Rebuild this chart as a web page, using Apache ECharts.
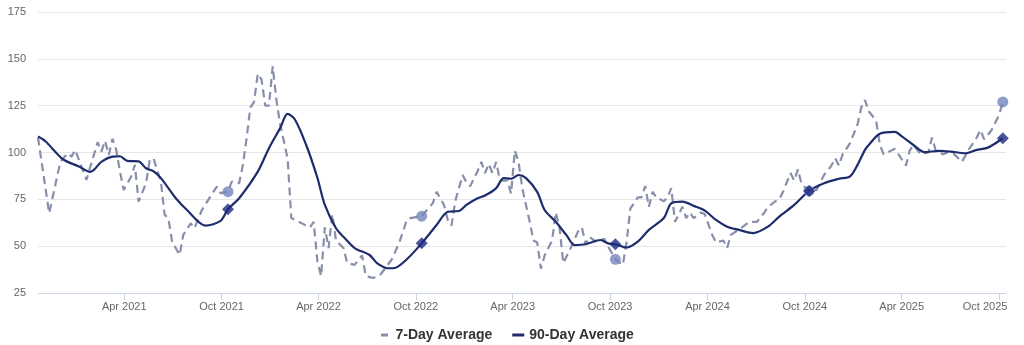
<!DOCTYPE html>
<html>
<head>
<meta charset="utf-8">
<script src="https://cdn.jsdelivr.net/npm/echarts@6/dist/echarts.min.js"></script>
<style>
  html, body { margin: 0; padding: 0; background: #ffffff; }
  #chart { width: 1024px; height: 345px; }
</style>
</head>
<body>
<div id="chart"></div>
<script>
// [week, value] readings; week 0 is Wednesday 21 Oct 2020.
const avg7 = [
  [0,108],[3,67.6],[6,95],[8,99.6],[9,97.8],[10,101.4],[12,90.7],[13,85.4],[15,98.7],[16,105.5],[17,100.5],[18,106.2],
  [19,98.7],[20,107.3],[21,101.4],[22,89.8],[23,80],[25,87.1],[26,93.4],[27,73.8],[29,83.6],[30,96],[31,96.9],[33,84.4],
  [34,66.7],[35,64.9],[36,52.4],[38,45.3],[39,56],[41,62.2],[42,59.6],[44,69.3],[46,75.6],[48,81.8],[49,78.3],[51,79.1],
  [52,84.5],[54,83.6],[55,93.4],[56,107.6],[57,124],[58,127],[59,142],[60,139],[61,125],[62,125],[63,146],[64,128],
  [65,115],[67,97],[68,65],[70,63],[73,60],[74,63],[75,42],[76,34],[77,60],[78,49],[79,67],[80,53],[82,49],[83,41],
  [85,40],[87,45],[88,34],[90,33],[92,35],[95,43],[97,52],[99,64],[100,65],[103,66],[106,73],[107,79],[109,72],
  [110,64],[111,61],[112,74],[114,88],[115,84],[116,82],[118,90],[119,95],[120,89],[121,94],[122,89],[123,95],[124,85],
  [126,85],[127,78],[128,101],[129,95],[130,81],[132,63],[133,53],[134,52],[135,38],[136,45],[138,53],[139,68],[140,60],
  [141,41],[143,49],[145,58],[146,60],[147,51],[148,55],[150,52],[152,54],[153,50],[155,43],[157,40],[158,52],[159,70],
  [161,76],[162,76],[163,82],[164,71],[165,79],[166,76],[168,74],[169,76],[170,81],[171,63],[173,71],[174,65],[175,68],
  [176,65],[178,68],[179,67],[181,56],[182,52],[184,53],[185,49],[186,56],[189,60],[191,63],[193,63],[195,68],[196,71],
  [198,74],[199,75],[200,79],[202,89],[203,85],[204,91],[205,83],[207,79.5],[209,80],[211,88],[213,93],[214,97],[215,93],
  [216,99],[218,105],[220,115],[221,124],[222,128],[223,122],[225,117],[226,104],[227,99],[229,101],[230,102],[231,99],
  [233,93],[234,101],[235,104],[237,99],[239,100],[240,108],[241,101],[243,99],[244,100],[246,99],[248,95],[250,102],
  [252,108],[253,112],[254,107],[256,112],[258,120],[259,127]
];
const avg90 = [
  [0,108.5],[2,106],[5,99.6],[7,96],[11,92.5],[14,89.7],[15,90.7],[17,95],[20,97.8],[22,98],[24,95.5],[27,95.3],
  [29,91.6],[31,90],[33,86.3],[37,75.6],[40,69.3],[45,61],[49,63.5],[51,69.7],[54,75.6],[59,89.8],[62,102.3],[65,113],
  [67,120.6],[69,117.5],[72,104],[75,86.5],[77,72],[80,59.6],[82,55],[85,49],[89,45.3],[91,41],[94,38.2],[96,38.5],
  [99,43],[103,51.5],[107,61.3],[110,68.4],[113,68.8],[115,72],[118,75.6],[120,77],[123,81],[125,86.3],[127,86],[129,88],
  [131,86.3],[134,79],[136,69.3],[139,63],[142,55.5],[144,50.6],[147,51],[151,53.3],[153,51.5],[155,51],[158,49.3],
  [161,52.4],[164,58.7],[168,65],[170,72.9],[173,73.8],[176,71.5],[179,69],[182,64],[185,60.4],[188,58.8],[192,57],
  [196,60.5],[199,65.8],[203,72],[207,79.5],[211,83.6],[215,86],[218,87.3],[220,93.4],[222,101.4],[223,104],[226,110],
  [230,111],[232,108.5],[235,104],[238,100.2],[242,100.9],[245,100.5],[249,99.6],[252,101.4],[255,102.6],[259,107.6]
];
// Yearly October snapshots highlighted on both lines
const snapshotWeeks = [51, 103, 155, 207, 259];
const yTicks = [25, 50, 75, 100, 125, 150, 175];
const xTickLabels = ['2021-04', '2021-10', '2022-04', '2022-10', '2023-04', '2023-10', '2024-04', '2024-10', '2025-04', '2025-10'];
const seriesNames = ['7-Day Average', '90-Day Average'];
const monthNames = ['Jan', 'Feb', 'Mar', 'Apr', 'May', 'Jun', 'Jul', 'Aug', 'Sep', 'Oct', 'Nov', 'Dec'];

const weekTime = w => new Date(2020, 9, 21 + 7 * w).getTime();
const monthTime = s => { const p = s.split('-'); return new Date(+p[0], +p[1] - 1, 1).getTime(); };
const toPoints = arr => arr.map(([w, v]) => [weekTime(w), v]);
const valueAt = (arr, w) => arr.find(p => p[0] === w)[1];

const pts7 = toPoints(avg7);
const pts90 = toPoints(avg90);
const snap7 = snapshotWeeks.map(w => [weekTime(w), valueAt(avg7, w)]);
const snap90 = snapshotWeeks.map(w => [weekTime(w), valueAt(avg90, w)]);
const tickTimes = xTickLabels.map(monthTime);
const lastTick = tickTimes[tickTimes.length - 1];

const FONT = '"Liberation Sans", Arial, Helvetica, sans-serif';
const COL7 = '#878fab';
const COL90 = '#1f2c6c';

const chart = echarts.init(document.getElementById('chart'), null, { renderer: 'canvas' });
chart.setOption({
  animation: false,
  backgroundColor: '#ffffff',
  textStyle: { fontFamily: FONT },
  grid: { left: 38, right: 18, top: 12, bottom: 52 },
  legend: {
    left: 376,
    top: 323,
    itemGap: 20,
    itemWidth: 12,
    itemHeight: 3,
    textStyle: { fontFamily: FONT, fontSize: 14, fontWeight: 'bold', color: '#333333' },
    data: [
      { name: seriesNames[0], icon: 'path://M0,0H7V3H0Z', itemStyle: { color: COL7 } },
      { name: seriesNames[1], icon: 'rect', itemStyle: { color: COL90 } }
    ]
  },
  xAxis: {
    // timestamps on a linear scale, labelled at half-year marks
    type: 'value',
    min: weekTime(0),
    max: new Date(2025, 9, 14).getTime(),
    axisLine: { show: true, lineStyle: { color: '#ccd6eb', width: 1 } },
    axisTick: { show: true, customValues: tickTimes, length: 7, lineStyle: { color: '#ccd6eb' } },
    splitLine: { show: false },
    axisLabel: {
      customValues: tickTimes,
      margin: 8,
      color: '#666666',
      fontSize: 11,
      fontFamily: FONT,
      formatter: v => {
        const d = new Date(v);
        const s = monthNames[d.getMonth()] + ' ' + d.getFullYear();
        return v === lastTick ? '{edge|' + s + '}' : s;
      },
      rich: { edge: { padding: [0, 28, 0, 0], color: '#666666', fontSize: 11, fontFamily: FONT } }
    }
  },
  yAxis: {
    type: 'value',
    min: yTicks[0],
    max: yTicks[yTicks.length - 1],
    interval: 25,
    axisLine: { show: false },
    axisTick: { show: false },
    splitLine: { lineStyle: { color: '#e6e6e6', width: 1 } },
    axisLabel: { color: '#666666', fontSize: 11, fontFamily: FONT, margin: 12 }
  },
  series: [
    {
      name: seriesNames[0],
      type: 'line',
      data: pts7,
      showSymbol: false,
      symbol: 'none',
      lineStyle: { color: COL7, width: 2.2, type: [8, 5] },
      itemStyle: { color: COL7 },
      z: 2
    },
    {
      name: seriesNames[1],
      type: 'line',
      data: pts90,
      showSymbol: false,
      symbol: 'none',
      smooth: 0.3,
      lineStyle: { color: COL90, width: 2.2 },
      itemStyle: { color: COL90 },
      z: 3
    },
    {
      name: seriesNames[0],
      type: 'scatter',
      data: snap7,
      symbol: 'circle',
      symbolSize: 11,
      itemStyle: { color: '#7386bb' },
      z: 4
    },
    {
      name: seriesNames[1],
      type: 'scatter',
      data: snap90,
      symbol: 'diamond',
      symbolSize: 12,
      itemStyle: { color: '#1b2a80' },
      z: 5
    }
  ]
});
</script>
</body>
</html>
